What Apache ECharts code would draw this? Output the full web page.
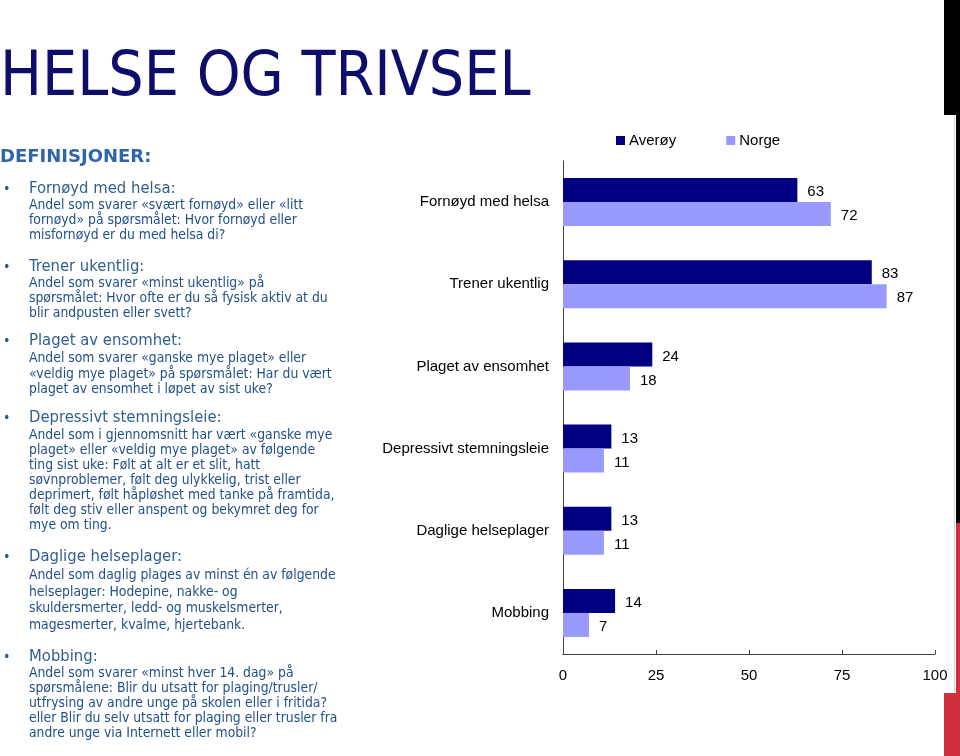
<!DOCTYPE html>
<html><head><meta charset="utf-8">
<script src="https://cdn.jsdelivr.net/npm/echarts@6/dist/echarts.min.js"></script>
<style>html,body{margin:0;padding:0;background:#fff}#c{width:960px;height:756px}</style>
</head><body><div id="c"></div>
<script>
const categories = ['Fornøyd med helsa','Trener ukentlig','Plaget av ensomhet','Depressivt stemningsleie','Daglige helseplager','Mobbing'];
const averoy = [63,83,24,13,13,14];
const norge = [72,87,18,11,11,7];
const xTicks = [0,25,50,75,100];
const seriesNames = ['Averøy','Norge'];
const title = 'HELSE OG TRIVSEL';
const defHeader = 'DEFINISJONER:';
const defItems = [
 ['Fornøyd med helsa:', 'Andel som svarer «svært fornøyd» eller «litt\nfornøyd» på spørsmålet: Hvor fornøyd eller\nmisfornøyd er du med helsa di?'],
 ['Trener ukentlig:', 'Andel som svarer «minst ukentlig» på\nspørsmålet: Hvor ofte er du så fysisk aktiv at du\nblir andpusten eller svett?'],
 ['Plaget av ensomhet:', 'Andel som svarer «ganske mye plaget» eller\n«veldig mye plaget» på spørsmålet: Har du vært\nplaget av ensomhet i løpet av sist uke?'],
 ['Depressivt stemningsleie:', 'Andel som i gjennomsnitt har vært «ganske mye\nplaget» eller «veldig mye plaget» av følgende\nting sist uke: Følt at alt er et slit, hatt\nsøvnproblemer, følt deg ulykkelig, trist eller\ndeprimert, følt håpløshet med tanke på framtida,\nfølt deg stiv eller anspent og bekymret deg for\nmye om ting.'],
 ['Daglige helseplager:', 'Andel som daglig plages av minst én av følgende\nhelseplager: Hodepine, nakke- og\nskuldersmerter, ledd- og muskelsmerter,\nmagesmerter, kvalme, hjertebank.'],
 ['Mobbing:', 'Andel som svarer «minst hver 14. dag» på\nspørsmålene: Blir du utsatt for plaging/trusler/\nutfrysing av andre unge på skolen eller i fritida?\neller Blir du selv utsatt for plaging eller trusler fra\nandre unge via Internett eller mobil?']
];
const headY = [189,267,341,418,557,657];
const bodyTop = [198,276,351,428,567,666];
const bodyLH = [15,15,15.5,15,16.7,15];

const FONT = "'DejaVu Sans Condensed', 'DejaVu Sans', sans-serif";
const CFONT = "'Liberation Sans', Arial, sans-serif";
const graphic = [];
graphic.push({type:'text', left:0, top:48, style:{text:title, font:"62px 'DejaVu Sans Condensed', 'DejaVu Sans'", fill:'#0d0d6b'}});
graphic.push({type:'text', x:0, y:157, style:{text:defHeader, font:"bold 18px 'DejaVu Sans', sans-serif", fill:'#2f66aa', verticalAlign:'middle'}});
defItems.forEach((it,i)=>{
  graphic.push({type:'text', x:3, y:headY[i], style:{text:'•', font:"14px "+FONT, fill:'#2a5d8f', verticalAlign:'middle'}});
  graphic.push({type:'text', x:29, y:headY[i], style:{text:it[0], font:"16.5px "+FONT, fill:'#2f5f8f', verticalAlign:'middle'}});
  graphic.push({type:'text', x:29, y:bodyTop[i], style:{text:it[1], font:"13.8px "+FONT, fill:'#23508a', lineHeight:bodyLH[i], verticalAlign:'top'}});
});
// right edge decorations
graphic.push({type:'rect', shape:{x:944,y:0,width:16,height:115}, style:{fill:'#000'}});
graphic.push({type:'rect', shape:{x:956,y:115,width:4,height:408}, style:{fill:'#000'}});
graphic.push({type:'rect', shape:{x:954,y:115,width:1,height:578}, style:{fill:'#d8d8d8'}});
graphic.push({type:'rect', shape:{x:956,y:523,width:4,height:170}, style:{fill:'#d0303c'}});
graphic.push({type:'rect', shape:{x:944,y:693,width:16,height:63}, style:{fill:'#d0303c'}});

const chart = echarts.init(document.getElementById('c'), null, {renderer:'canvas'});
chart.setOption({
  animation:false,
  textStyle:{fontFamily:CFONT},
  graphic: graphic,
  legend:{data:seriesNames, left:616, top:133, padding:0, itemWidth:9, itemHeight:9, itemGap:50, icon:'rect',
    textStyle:{fontSize:15, color:'#000', fontFamily:CFONT, padding:[0,0,0,-1]}},
  grid:{left:563, right:25, top:161, bottom:102, containLabel:false},
  xAxis:{type:'value', min:0, max:100, interval:25,
    axisLine:{show:true, lineStyle:{color:'#404040'}},
    axisTick:{show:true, inside:true, length:4, lineStyle:{color:'#404040'}},
    splitLine:{show:false},
    axisLabel:{fontSize:15, color:'#000', margin:14, fontFamily:CFONT,
      formatter:v=>xTicks.includes(v)?String(v):''}},
  yAxis:{type:'category', data:categories, inverse:true,
    axisLine:{lineStyle:{color:'#404040'}},
    axisTick:{length:4, lineStyle:{color:'#404040'}},
    axisLabel:{fontSize:15, color:'#000', margin:14, fontFamily:CFONT}},
  series:[
    {name:seriesNames[0], type:'bar', data:averoy, barWidth:24, barGap:'0%', itemStyle:{color:'#000080'},
     label:{show:true, position:'right', distance:10, offset:[0,2], fontSize:15, color:'#000', fontFamily:CFONT}},
    {name:seriesNames[1], type:'bar', data:norge, barWidth:24, barGap:'0%', itemStyle:{color:'#9999ff'},
     label:{show:true, position:'right', distance:10, offset:[0,2], fontSize:15, color:'#000', fontFamily:CFONT}}
  ]
});
</script></body></html>
